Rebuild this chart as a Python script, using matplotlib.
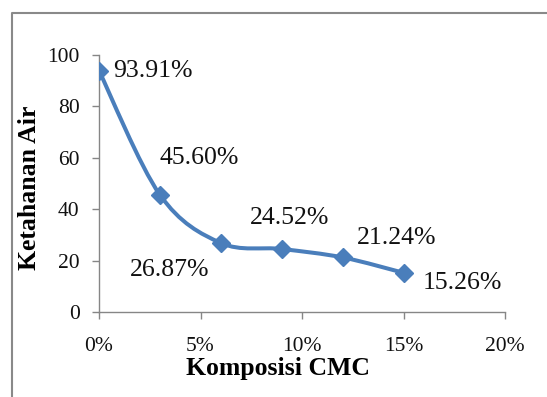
import numpy as np
import matplotlib
matplotlib.use('Agg')
import matplotlib.pyplot as plt
from matplotlib.path import Path
from matplotlib.patches import PathPatch
from matplotlib.lines import Line2D
from matplotlib.ticker import FuncFormatter

# komposisi CMC (%) vs ketahanan air
cmc = [0, 3, 6, 9, 12, 15]
ketahanan = [93.91, 45.60, 26.87, 24.52, 21.24, 15.26]
label_txt = ['93.91%', '45.60%', '26.87%', '24.52%', '21.24%', '15.26%']
# label offsets (pixels) and alignment
offsets = [(14, 0), (0, 37), (-11, -27), (8, 31), (14, 19), (19, -10)]
aligns = ['left', 'left', 'right', 'center', 'left', 'left']

blue = '#4a7ebb'
grey = '#868686'

plt.rcParams['font.family'] = 'Liberation Serif'

fig = plt.figure(figsize=(5.47, 3.97), dpi=100)
ax = fig.add_axes([99/547, 1-312/397, (505-99)/547, (312-55)/397])

# smoothed line (catmull-rom as cubic bezier)
pts = np.column_stack([cmc, ketahanan]).astype(float)
verts = [pts[0]]
codes = [Path.MOVETO]
n = len(pts)
for i in range(n-1):
    p0 = pts[max(i-1, 0)]
    p1 = pts[i]
    p2 = pts[i+1]
    p3 = pts[min(i+2, n-1)]
    c1 = p1 + (p2 - p0)/6.0
    c2 = p2 - (p3 - p1)/6.0
    verts += [c1, c2, p2]
    codes += [Path.CURVE4]*3
ax.add_patch(PathPatch(Path(verts, codes), fill=False, edgecolor=blue, lw=2.9,
                       capstyle='round', joinstyle='round', zorder=2))
ax.plot(cmc, ketahanan, linestyle='none', marker='D', ms=9, color=blue, zorder=3)

for x, y, t, off, ha in zip(cmc, ketahanan, label_txt, offsets, aligns):
    ax.annotate(t, (x, y), xytext=off, textcoords='offset pixels',
                ha=ha, va='center', fontsize=18.5, color='#111111')

ax.set_xlim(0, 20)
ax.set_ylim(0, 100)
ax.set_xticks([0, 5, 10, 15, 20])
ax.set_yticks([0, 20, 40, 60, 80, 100])
ax.xaxis.set_major_formatter(FuncFormatter(lambda v, p: '%d%%' % v))
for s in ['top', 'right']:
    ax.spines[s].set_visible(False)
for s in ['left', 'bottom']:
    ax.spines[s].set_color(grey)
    ax.spines[s].set_linewidth(1)
ax.tick_params(axis='both', direction='out', length=5, width=1, color=grey,
               labelsize=15.5, labelcolor='#111111')
ax.tick_params(axis='x', pad=13)
ax.tick_params(axis='y', pad=9)

fig.text(278/547, 1-368/397, 'Komposisi CMC', ha='center', va='center',
         fontsize=18.5, fontweight='bold')
fig.text(30/547, 1-188/397, 'Ketahanan Air', ha='center', va='center',
         rotation=90, fontsize=18.5, fontweight='bold')

# chart frame
fig.add_artist(Line2D([12/547, 12/547, 1], [0, 1-13/397, 1-13/397],
                      color='#898989', lw=1.5))

fig.savefig('out.png', dpi=100)
